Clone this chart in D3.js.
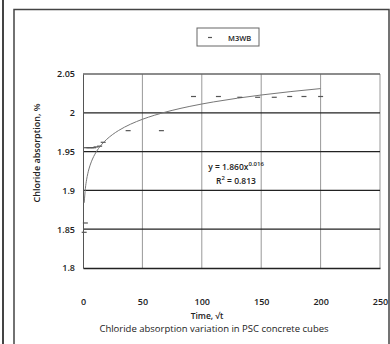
<!DOCTYPE html>
<html>
<head>
<meta charset="utf-8">
<script src="https://cdn.jsdelivr.net/npm/d3@7"></script>
<style>
  body { margin: 0; background: #fff; }
  svg text { font-family: "Open Sans", "Liberation Sans", sans-serif; fill: #222; }
</style>
</head>
<body>
<div id="graph"></div>
<script>
const width = 390, height = 344;
const margin = { top: 74, right: 10, bottom: 76, left: 83 };

// M3WB readings (time, chloride absorption %)
const times = [1, 2, 3, 5, 7, 9, 11, 14, 17, 38, 66, 93, 114, 132, 147, 161, 174, 186, 200];
const absorption = [1.846, 1.858, 1.955, 1.955, 1.955, 1.955, 1.956, 1.957, 1.962, 1.977, 1.977,
    2.021, 2.021, 2.020, 2.020, 2.020, 2.021, 2.021, 2.021];

const xTicks = [0, 50, 100, 150, 200, 250];
const yTicks = [1.8, 1.85, 1.9, 1.95, 2, 2.05];

// power trendline as drawn on the chart
const trendA = 1.884, trendB = 0.0142;
const trendTimes = [1, 2, 3, 4, 6, 8, 10, 13, 16, 20, 25, 30, 40, 50, 60, 75, 90, 110, 130, 150, 175, 200];

const svg = d3.select("#graph").append("svg")
    .attr("width", width)
    .attr("height", height);

// outer frames
svg.append("line").attr("x1", 3).attr("x2", 3).attr("y1", 0).attr("y2", height)
    .attr("stroke", "#444").attr("stroke-width", 2);
svg.append("rect").attr("x", 14).attr("y", 9.5).attr("width", 375).attr("height", 340)
    .attr("fill", "none").attr("stroke", "#444").attr("stroke-width", 1.5);

const xScale = d3.scaleLinear().domain([0, 250]).range([margin.left, width - margin.right]);
const yScale = d3.scaleLinear().domain([1.8, 2.05]).range([height - margin.bottom, margin.top]);

// vertical grid
svg.append("g")
    .selectAll("line")
    .data(xTicks.slice(1))
    .enter().append("line")
    .attr("x1", d => xScale(d)).attr("x2", d => xScale(d))
    .attr("y1", yScale(2.05)).attr("y2", yScale(1.8))
    .attr("stroke", "#999").attr("stroke-width", 1);

// horizontal grid
svg.append("g")
    .selectAll("line")
    .data(yTicks.slice(1))
    .enter().append("line")
    .attr("x1", xScale(0)).attr("x2", xScale(250))
    .attr("y1", d => yScale(d)).attr("y2", d => yScale(d))
    .attr("stroke", d => d === 2.05 ? "#666" : "#222").attr("stroke-width", 1.3);

// axes
const yAxis = d3.axisLeft(yScale).tickValues(yTicks).tickSize(0).tickPadding(8)
    .tickFormat(d3.format("~g"));
svg.append("g").attr("transform", "translate(" + xScale(0) + ",0)").call(yAxis)
    .call(g => g.select(".domain").attr("stroke", "#555"))
    .selectAll("text").attr("font-size", 9).style("font-weight", 600);

const xAxis = d3.axisBottom(xScale).tickValues(xTicks).tickSize(0).tickPadding(31);
svg.append("g").attr("transform", "translate(0," + yScale(1.8) + ")").call(xAxis)
    .call(g => g.select(".domain").attr("stroke", "#222").attr("stroke-width", 1.3))
    .selectAll("text").attr("font-size", 9).style("font-weight", 600);

// axis titles and caption
svg.append("text").attr("x", 207).attr("y", 319).attr("text-anchor", "middle")
    .attr("font-size", 8.5).style("font-weight", 600).text("Time, √t");
svg.append("text").attr("transform", "translate(40,153) rotate(-90)").attr("text-anchor", "middle")
    .attr("font-size", 9).style("font-weight", 600).text("Chloride absorption, %");
svg.append("text").attr("x", 214).attr("y", 332).attr("text-anchor", "middle")
    .attr("font-size", 9.5).text("Chloride absorption variation in PSC concrete cubes");

// trendline
const line = d3.line()
    .x(d => xScale(d))
    .y(d => yScale(trendA * Math.pow(d, trendB)))
    .curve(d3.curveMonotoneX);
svg.append("path").datum(trendTimes)
    .attr("d", line)
    .attr("fill", "none").attr("stroke", "#777").attr("stroke-width", 1);

// dash markers
svg.append("g")
    .selectAll("line")
    .data(times.map((t, i) => [t, absorption[i]]))
    .enter().append("line")
    .attr("x1", d => xScale(d[0]) - 2.5).attr("x2", d => xScale(d[0]) + 2.5)
    .attr("y1", d => yScale(d[1])).attr("y2", d => yScale(d[1]))
    .attr("stroke", "#555").attr("stroke-width", 1.2);

// equation
svg.append("text").attr("x", 236).attr("y", 170).attr("text-anchor", "middle")
    .attr("font-size", 8.5).style("font-weight", 600)
    .html('y = 1.860x<tspan dy="-4" font-size="6">0.016</tspan>');
svg.append("text").attr("x", 236).attr("y", 184).attr("text-anchor", "middle")
    .attr("font-size", 8.5).style("font-weight", 600)
    .html('R<tspan dy="-4" font-size="6">2</tspan><tspan dy="4"> = 0.813</tspan>');

// legend
const legend = svg.append("g").attr("transform", "translate(197,28)");
legend.append("rect").attr("width", 62).attr("height", 18)
    .attr("fill", "#fff").attr("stroke", "#666").attr("stroke-width", 1);
legend.append("line").attr("x1", 11).attr("x2", 15).attr("y1", 9.5).attr("y2", 9.5)
    .attr("stroke", "#555").attr("stroke-width", 1.2);
legend.append("text").attr("x", 31).attr("y", 12.5).attr("font-size", 7.5)
    .style("font-weight", 600).text("M3WB");
</script>
</body>
</html>
